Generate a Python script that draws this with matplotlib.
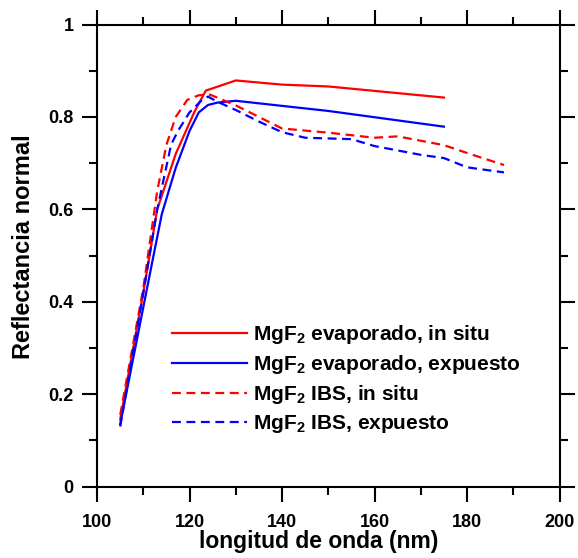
import matplotlib
matplotlib.use('Agg')
import matplotlib.pyplot as plt
from matplotlib.ticker import MultipleLocator, FormatStrFormatter

plt.rcParams['font.family'] = ['Liberation Sans', 'DejaVu Sans']
plt.rcParams['font.weight'] = 'bold'
plt.rcParams['mathtext.fontset'] = 'custom'
plt.rcParams['mathtext.rm'] = 'Liberation Sans:bold'
plt.rcParams['mathtext.bf'] = 'Liberation Sans:bold'

# MgF2 evaporado, in situ
lam_evap_situ = [105, 110, 113, 117, 121, 123.5, 130, 140, 150, 175]
r_evap_situ = [0.145, 0.42, 0.60, 0.72, 0.81, 0.857, 0.879, 0.870, 0.866, 0.842]

# MgF2 evaporado, expuesto
lam_evap_exp = [105, 112, 114, 117, 120, 122, 124, 126, 130, 140, 150, 175]
r_evap_exp = [0.135, 0.49, 0.59, 0.69, 0.77, 0.81, 0.826, 0.831, 0.835, 0.824, 0.813, 0.779]

# MgF2 IBS, in situ
lam_ibs_situ = [105, 110, 113, 115, 117, 119.5, 122, 124.5, 130, 135, 140, 150, 160, 165, 175, 180, 188]
r_ibs_situ = [0.155, 0.43, 0.64, 0.74, 0.80, 0.837, 0.847, 0.848, 0.825, 0.80, 0.775, 0.766, 0.755, 0.758, 0.739, 0.722, 0.696]

# MgF2 IBS, expuesto
lam_ibs_exp = [105, 110, 113, 116, 117.5, 120, 123, 124, 126, 130, 135, 140, 145, 155, 160, 170, 175, 180, 188]
r_ibs_exp = [0.13, 0.42, 0.60, 0.74, 0.77, 0.81, 0.84, 0.844, 0.833, 0.815, 0.79, 0.767, 0.755, 0.752, 0.737, 0.718, 0.711, 0.691, 0.68]

labels = ['MgF$_2$ evaporado, in situ',
          'MgF$_2$ evaporado, expuesto',
          'MgF$_2$ IBS, in situ',
          'MgF$_2$ IBS, expuesto']

fig = plt.figure(figsize=(5.78, 5.58), dpi=100)
ax = fig.add_axes([0.168, 0.128, 0.80, 0.828])

dash = (0, (4, 2.5))
ax.plot(lam_evap_situ, r_evap_situ, color='red', lw=1.6, label=labels[0])
ax.plot(lam_evap_exp, r_evap_exp, color='blue', lw=1.6, label=labels[1])
ax.plot(lam_ibs_situ, r_ibs_situ, color='red', lw=1.6, ls=dash, label=labels[2])
ax.plot(lam_ibs_exp, r_ibs_exp, color='blue', lw=1.6, ls=dash, label=labels[3])

ax.set_xlim(100, 200)
ax.set_ylim(0, 1)
ax.xaxis.set_major_locator(MultipleLocator(20))
ax.xaxis.set_minor_locator(MultipleLocator(10))
ax.yaxis.set_major_locator(MultipleLocator(0.2))
ax.yaxis.set_minor_locator(MultipleLocator(0.1))
ax.yaxis.set_major_formatter(FormatStrFormatter('%g'))

for s in ax.spines.values():
    s.set_linewidth(1.5)
ax.tick_params(which='both', direction='out', top=True, right=True, width=1.5)
ax.tick_params(which='major', length=11, labelsize=13)
ax.tick_params(which='minor', length=5.5)
ax.tick_params(axis='x', which='major', pad=8.5)
ax.tick_params(axis='y', which='major', pad=6)

ax.set_xlabel('longitud de onda (nm)', fontsize=16.5, fontweight='bold')
ax.set_ylabel('Reflectancia normal', fontsize=17, fontweight='bold')
ax.xaxis.set_label_coords(0.48, -0.094)
ax.yaxis.set_label_coords(-0.135, 0.519)

ax.legend(loc='upper left', bbox_to_anchor=(0.162, 0.353), frameon=False,
          fontsize=15, handlelength=3.6, handletextpad=0.3, labelspacing=0.33,
          borderpad=0, borderaxespad=0)

fig.savefig('out.png', dpi=100)
